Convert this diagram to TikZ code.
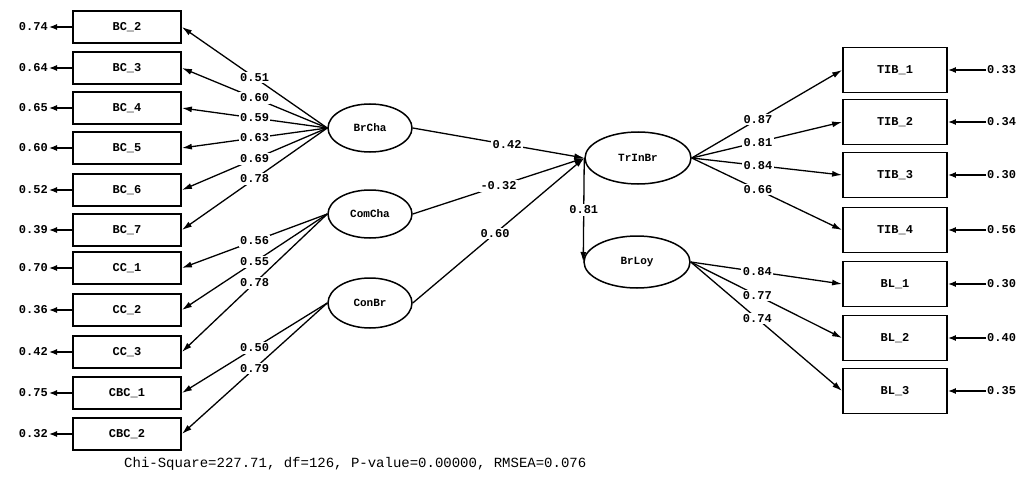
\documentclass[tikz,border=0pt]{standalone}
\usepackage{fontspec}
\setmonofont{Liberation Mono}
\usetikzlibrary{shapes.geometric,arrows.meta}
\begin{document}
\begin{tikzpicture}[x=1pt,y=-1pt,
  obs/.style={draw,line width=1.8pt,minimum width=108pt,minimum height=32pt,inner sep=0pt,font=\ttfamily\bfseries\fontsize{12}{12}\selectfont},
  obsr/.style={obs,minimum width=104pt,minimum height=45pt},
  lat/.style={draw,ellipse,line width=1.5pt,inner sep=0pt,font=\ttfamily\bfseries\fontsize{11}{11}\selectfont},
  val/.style={font=\ttfamily\bfseries\fontsize{12}{12}\selectfont,inner sep=1pt},
  lab/.style={val,fill=white,inner sep=1.5pt},
  path/.style={line width=1.3pt,-{Latex[length=10pt,width=6pt]}},
  err/.style={line width=1.3pt,-{Latex[length=8pt,width=6pt]}}]
\useasboundingbox (0,0) rectangle (1019,484);

% observed indicators, left column
\foreach \n/\t/\y/\e in {BCa/BC\_2/27/0.74, BCb/BC\_3/68/0.64, BCc/BC\_4/108/0.65,
    BCd/BC\_5/148/0.60, BCe/BC\_6/190/0.52, BCf/BC\_7/230/0.39, CCa/CC\_1/268/0.70,
    CCb/CC\_2/310/0.36, CCc/CC\_3/352/0.42, CBCa/CBC\_1/393/0.75, CBCb/CBC\_2/434/0.32}{
  \node[obs] (\n) at (127,\y) {\t};
  \node[val,anchor=east] (e\n) at (49,\y) {\e};
  \draw[err] (\n.west) -- (e\n.east);
}

% observed indicators, right column
\foreach \n/\t/\y/\e in {TIBa/TIB\_1/70/0.33, TIBb/TIB\_2/122/0.34, TIBc/TIB\_3/175/0.30,
    TIBd/TIB\_4/230/0.56, BLa/BL\_1/284/0.30, BLb/BL\_2/338/0.40, BLc/BL\_3/391/0.35}{
  \node[obsr] (\n) at (895,\y) {\t};
  \node[val,anchor=west] (e\n) at (986,\y) {\e};
  \draw[err] (e\n.west) -- (\n.east);
}

% latent variables
\node[lat,minimum width=84pt,minimum height=48pt] (BrCha) at (370,128) {BrCha};
\node[lat,minimum width=84pt,minimum height=48pt] (ComCha) at (370,214) {ComCha};
\node[lat,minimum width=84pt,minimum height=50pt] (ConBr) at (370,303) {ConBr};
\node[lat,minimum width=106pt,minimum height=52pt] (TrInBr) at (638,158) {TrInBr};
\node[lat,minimum width=106pt,minimum height=52pt] (BrLoy) at (637,262) {BrLoy};

% measurement paths, left
\foreach \n/\v in {BCa/0.51, BCb/0.60, BCc/0.59, BCd/0.63, BCe/0.69, BCf/0.78}
  \draw[path] (BrCha.west) -- node[lab,pos=0.5] {\v} (\n.east);
\foreach \n/\v in {CCa/0.56, CCb/0.55, CCc/0.78}
  \draw[path] (ComCha.west) -- node[lab,pos=0.5] {\v} (\n.east);
\foreach \n/\v in {CBCa/0.50, CBCb/0.79}
  \draw[path] (ConBr.west) -- node[lab,pos=0.5] {\v} (\n.east);

% measurement paths, right
\foreach \n/\v in {TIBa/0.87, TIBb/0.81, TIBc/0.84, TIBd/0.66}
  \draw[path] (TrInBr.east) -- node[lab,pos=0.44] {\v} (\n.west);
\foreach \n/\v in {BLa/0.84, BLb/0.77, BLc/0.74}
  \draw[path] (BrLoy.east) -- node[lab,pos=0.44] {\v} (\n.west);

% structural paths
\draw[path] (BrCha.east) -- node[lab,pos=0.55] {0.42} (TrInBr.west);
\draw[path] (ComCha.east) -- node[lab,pos=0.5] {-0.32} (TrInBr.west);
\draw[path] (ConBr.east) -- node[lab,pos=0.48] {0.60} (TrInBr.west);
\draw[path] (TrInBr.west) -- node[lab,pos=0.5] {0.81} (BrLoy.west);

% fit statistics
\node[anchor=west,inner sep=0pt,font=\ttfamily\fontsize{14}{14}\selectfont] (fit) at (124,464)
  {Chi-Square=227.71, df=126, P-value=0.00000, RMSEA=0.076};
\end{tikzpicture}
\end{document}
